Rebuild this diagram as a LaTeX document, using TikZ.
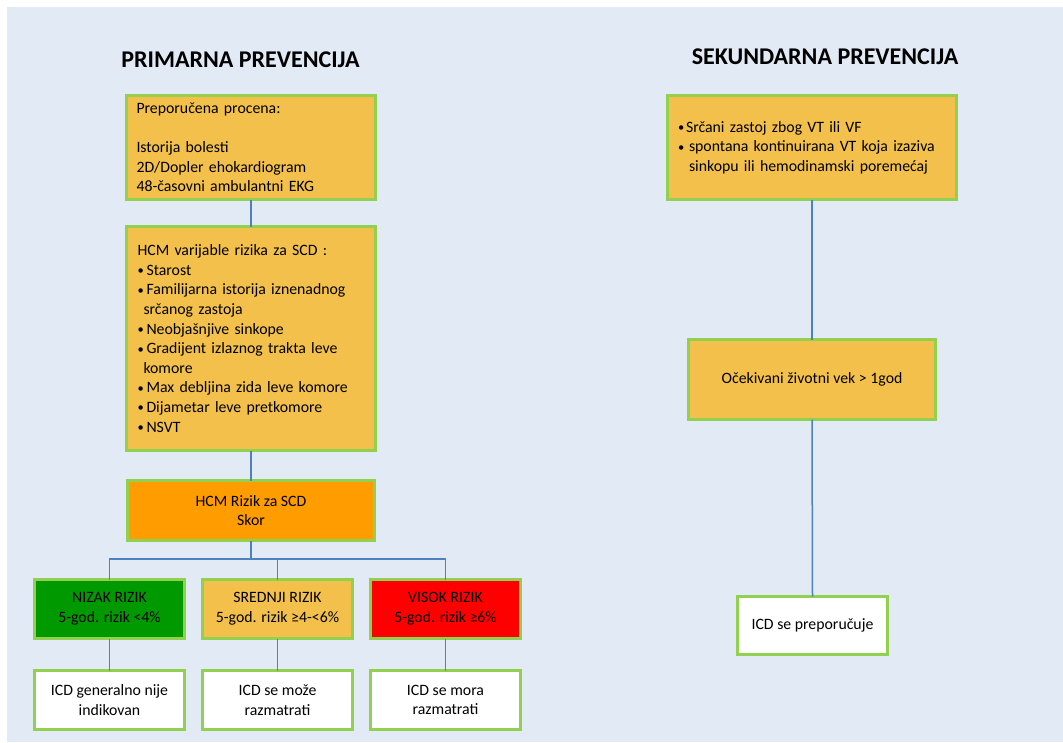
\documentclass[tikz,border=0pt]{standalone}
\usepackage{fontspec}
\setmainfont{Carlito}
\definecolor{bgblue}{HTML}{E2EAF6}
\definecolor{gold}{HTML}{F3C14B}
\definecolor{edgegreen}{HTML}{92D050}
\definecolor{orangebox}{HTML}{FF9C00}
\definecolor{greenbox}{HTML}{009900}
\definecolor{redbox}{HTML}{FF0000}
\definecolor{linkblue}{HTML}{4F81BD}
\newcommand\bulmark[1]{\makebox[#1][l]{\raisebox{0.6pt}{\fontsize{12.5}{12.5}\selectfont •}}}
\tikzset{
  box/.style={draw=edgegreen, line width=3pt, inner sep=0pt, outer sep=0pt,
    font=\fontsize{15.8}{19.6}\selectfont},
  goldbox/.style={box, fill=gold},
  whitebox/.style={box, fill=white},
  link/.style={draw=linkblue, line width=1.5pt},
  heading/.style={font=\fontsize{24}{28}\selectfont\bfseries, inner sep=0pt}
}
\begin{document}
\begin{tikzpicture}[x=1pt,y=-1pt]
\fill[white] (0,0) rectangle (1063,742);
\fill[bgblue] (7,7) rectangle (1063,742);
\useasboundingbox (0,0) rectangle (1063,742);

\node[heading] (t1) at (240.5,60) {PRIMARNA PREVENCIJA};
\node[heading] (t2) at (825,57) {SEKUNDARNA PREVENCIJA};

% left column
\node[goldbox, minimum width=249pt, minimum height=104pt, text width=229pt, align=left] (b1) at (251,147.5)
 {Preporučena procena:\\[19.6pt]Istorija bolesti\\2D/Dopler ehokardiogram\\48-časovni ambulantni EKG};
\node[goldbox, minimum width=249pt, minimum height=224pt, text width=227pt, align=left] (b2) at (251,338.5)
 {HCM varijable rizika za SCD :\\
  \bulmark{9pt}Starost\\
  \bulmark{9pt}Familijarna istorija iznenadnog\\
  \hspace*{6pt}srčanog zastoja\\
  \bulmark{9pt}Neobjašnjive sinkope\\
  \bulmark{9pt}Gradijent izlaznog trakta leve\\
  \hspace*{6pt}komore\\
  \bulmark{9pt}Max debljina zida leve komore\\
  \bulmark{9pt}Dijametar leve pretkomore\\
  \bulmark{9pt}NSVT};
\node[box, fill=orangebox, minimum width=247pt, minimum height=60pt, align=center] (b3) at (251,510.5)
 {HCM Rizik za SCD\\Skor};

\node[box, fill=greenbox, minimum width=150pt, minimum height=59pt, align=center] (r1) at (109.5,609)
 {NIZAK RIZIK\\5-god. rizik <4\%};
\node[goldbox, minimum width=150pt, minimum height=59pt, align=center] (r2) at (277.5,609)
 {SREDNJI RIZIK\\5-god. rizik ≥4-<6\%};
\node[box, fill=redbox, minimum width=150pt, minimum height=59pt, align=center] (r3) at (445.5,609)
 {VISOK RIZIK\\5-god. rizik ≥6\%};

\node[whitebox, minimum width=150pt, minimum height=59pt, align=center] (d1) at (109.5,700)
 {ICD generalno nije\\indikovan};
\node[whitebox, minimum width=150pt, minimum height=59pt, align=center] (d2) at (277.5,700)
 {ICD se može\\razmatrati};
\node[whitebox, minimum width=150pt, minimum height=59pt, align=center] (d3) at (445.5,700)
 {ICD se mora\\razmatrati};

\coordinate (bus) at (251,559);
\draw[link] (b1.south) -- (b2.north);
\draw[link] (b2.south) -- (b3.north);
\draw[link] (b3.south) -- (bus);
\draw[link] (r1.north) |- (bus);
\draw[link] (r3.north) |- (bus);
\draw[link] (r2.north) -- (r2.north |- bus);
\draw[link] (r1.south) -- (d1.north);
\draw[link] (r2.south) -- (d2.north);
\draw[link] (r3.south) -- (d3.north);

% right column
\node[goldbox, minimum width=289pt, minimum height=104pt, text width=268pt, align=left] (s1) at (812,147.5)
 {\mbox{\bulmark{8pt}Srčani zastoj zbog VT ili VF}\\
  \mbox{\bulmark{11pt}spontana kontinuirana VT koja izaziva}\\
  \mbox{\hspace*{11pt}sinkopu ili hemodinamski poremećaj}};
\node[goldbox, minimum width=247pt, minimum height=80pt, align=center] (s2) at (812,379.5)
 {Očekivani životni vek > 1god};
\node[whitebox, minimum width=150pt, minimum height=58pt, align=center] (s3) at (812.5,625.5)
 {ICD se preporučuje};
\draw[link] (s1.south) -- (s2.north);
\draw[link] (s2.south) -- (s3.north);
\end{tikzpicture}
\end{document}
